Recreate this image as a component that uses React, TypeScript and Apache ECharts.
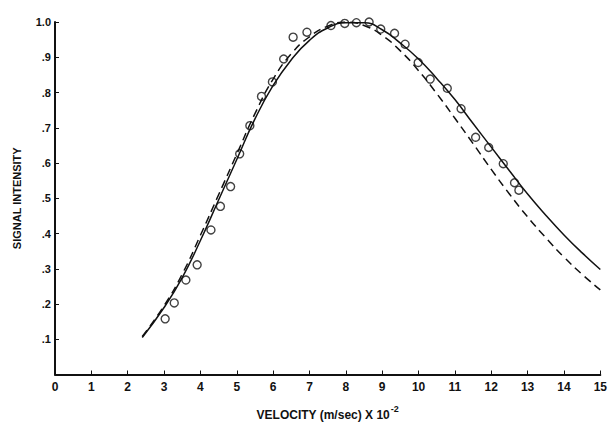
import React, { useEffect, useRef } from "react";
import * as echarts from "echarts";

const observedX = [3.03, 3.28, 3.6, 3.91, 4.29, 4.55, 4.83, 5.08, 5.36, 5.68, 5.98, 6.29, 6.55, 6.93, 7.59, 7.97, 8.29, 8.64, 8.96, 9.34, 9.63, 9.99, 10.32, 10.79, 11.17, 11.57, 11.93, 12.33, 12.64, 12.76];
const observedY = [0.158, 0.203, 0.268, 0.311, 0.41, 0.477, 0.533, 0.626, 0.706, 0.789, 0.83, 0.895, 0.957, 0.971, 0.99, 0.996, 0.998, 1.0, 0.98, 0.968, 0.937, 0.885, 0.838, 0.812, 0.754, 0.673, 0.644, 0.598, 0.544, 0.523];

const curveX = [2.4, 3.0, 3.5, 4.0, 4.5, 5.0, 5.5, 6.0, 6.5, 7.0, 7.5, 8.0, 8.5, 9.0, 9.5, 10.0, 10.5, 11.0, 11.5, 12.0, 12.5, 13.0, 13.5, 14.0, 14.5, 15.0];
const solidY = [0.105, 0.19, 0.275, 0.38, 0.495, 0.61, 0.725, 0.82, 0.893, 0.948, 0.983, 0.998, 0.998, 0.978, 0.94, 0.895, 0.84, 0.78, 0.712, 0.645, 0.578, 0.512, 0.452, 0.396, 0.345, 0.298];
const dashedY = [0.108, 0.195, 0.285, 0.395, 0.51, 0.625, 0.74, 0.838, 0.91, 0.958, 0.988, 1.0, 0.99, 0.962, 0.918, 0.862, 0.797, 0.727, 0.655, 0.582, 0.512, 0.447, 0.388, 0.333, 0.284, 0.24];

const FONT = "'Liberation Sans Narrow', 'Liberation Sans', Arial, sans-serif";

export default function App() {
  const ref = useRef<HTMLDivElement>(null);
  useEffect(() => {
    if (!ref.current) return;
    const chart = echarts.init(ref.current, null, { renderer: "svg" });
    const zip = (xs: number[], ys: number[]) => xs.map((x, i) => [x, ys[i]]);
    chart.setOption({
      animation: false,
      backgroundColor: "#ffffff",
      grid: { left: 55, right: 8, top: 22, bottom: 46, containLabel: false },
      xAxis: {
        type: "value",
        min: 0,
        max: 15,
        interval: 1,
        name: "{a|VELOCITY (m/sec) X 10}{s|-2}",
        nameLocation: "middle",
        nameGap: 30,
        nameTextStyle: {
          rich: {
            a: { fontFamily: FONT, fontWeight: "bold", fontSize: 12, color: "#111", padding: [4, 0, 0, 0] },
            s: { fontFamily: FONT, fontWeight: "bold", fontSize: 9, color: "#111", verticalAlign: "top", padding: [0, 0, 8, 1] },
          },
        },
        axisLine: { lineStyle: { color: "#111", width: 2 } },
        axisTick: { inside: true, length: 4, lineStyle: { color: "#111", width: 1 } },
        axisLabel: { fontFamily: FONT, fontWeight: "bold", fontSize: 12, color: "#111", margin: 6 },
        splitLine: { show: false },
      },
      yAxis: {
        type: "value",
        min: 0,
        max: 1,
        interval: 0.1,
        name: "SIGNAL INTENSITY",
        nameLocation: "middle",
        nameGap: 33,
        nameRotate: 90,
        nameTextStyle: { fontFamily: FONT, fontWeight: "bold", fontSize: 11, color: "#111" },
        axisLine: { lineStyle: { color: "#111", width: 2 } },
        axisTick: { inside: true, length: 4, lineStyle: { color: "#111", width: 1 } },
        axisLabel: {
          fontFamily: FONT,
          fontWeight: "bold",
          fontSize: 11,
          color: "#111",
          margin: 4,
          formatter: (v: number) => (v === 0 ? "" : v >= 0.999 ? "1.0" : "." + Math.round(v * 10)),
        },
        splitLine: { show: false },
      },
      series: [
        {
          type: "line",
          data: zip(curveX, solidY),
          smooth: 0.5,
          showSymbol: false,
          lineStyle: { color: "#111", width: 1.5 },
        },
        {
          type: "line",
          data: zip(curveX, dashedY),
          smooth: 0.5,
          showSymbol: false,
          lineStyle: { color: "#111", width: 1.5, type: [8, 5] },
        },
        {
          type: "scatter",
          data: zip(observedX, observedY),
          symbol: "circle",
          symbolSize: 8,
          itemStyle: { color: "#fff", borderColor: "#111", borderWidth: 1.4 },
        },
      ],
    });
    return () => chart.dispose();
  }, []);
  return <div ref={ref} style={{ width: 610, height: 426, position: "absolute", left: 0, top: 0 }} />;
}
